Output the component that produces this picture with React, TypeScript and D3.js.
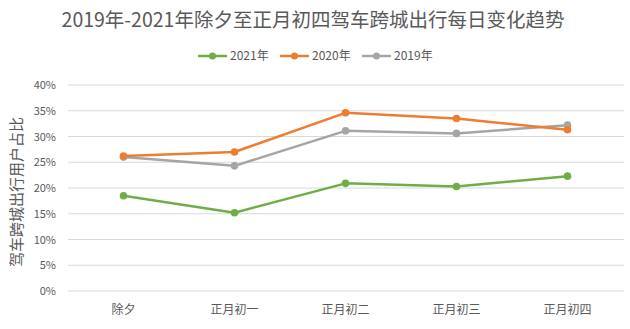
import React from "react";
import * as d3 from "d3";

const categories = ["除夕", "正月初一", "正月初二", "正月初三", "正月初四"];
const series2021 = [18.5, 15.2, 20.9, 20.3, 22.3];
const series2020 = [26.2, 27.0, 34.6, 33.5, 31.3];
const series2019 = [26.0, 24.3, 31.1, 30.6, 32.2];
const seriesNames = ["2021年", "2020年", "2019年"];
const seriesColors = ["#70AD47", "#ED7D31", "#A5A5A5"];
const yTicks = [0, 5, 10, 15, 20, 25, 30, 35, 40];

const W = 630;
const H = 329;
const FONT = "'Noto Sans CJK SC', 'Noto Sans', sans-serif";

export default function App() {
  const x = d3.scaleBand<string>().domain(categories).range([68, 623]);
  const y = d3.scaleLinear().domain([0, 40]).range([291, 85]);
  const cx = (c: string) => (x(c) ?? 0) + x.bandwidth() / 2;
  const line = d3
    .line<number>()
    .x((_, i) => cx(categories[i]))
    .y((d) => y(d));
  const all = [series2021, series2020, series2019];
  const drawOrder = [2, 1, 0];
  const legendX = [198, 280, 362];

  return (
    <svg
      width={W}
      height={H}
      style={{ position: "absolute", left: 0, top: 0, background: "#fff" }}
      fontFamily={FONT}
    >
      <rect width={W} height={H} fill="#fff" />
      <text x={313} y={27} textAnchor="middle" fontSize={19.5} fill="#595959">
        2019年-2021年除夕至正月初四驾车跨城出行每日变化趋势
      </text>
      {seriesNames.map((n, i) => (
        <g key={n} transform={`translate(${legendX[i]},56)`}>
          <line x1={0} x2={29} y1={0} y2={0} stroke={seriesColors[i]} strokeWidth={2.5} />
          <circle cx={14.5} cy={0} r={3.5} fill={seriesColors[i]} />
          <text x={32} y={4} fontSize={12} fill="#595959">
            {n}
          </text>
        </g>
      ))}
      {yTicks.map((t) => (
        <g key={t}>
          <line x1={68} x2={624} y1={y(t)} y2={y(t)} stroke="#D9D9D9" strokeWidth={1} />
          <text x={56} y={y(t) + 4} textAnchor="end" fontSize={11} fill="#595959">
            {t}%
          </text>
        </g>
      ))}
      <text
        transform={`translate(22,192) rotate(-90)`}
        textAnchor="middle"
        fontSize={15}
        fill="#595959"
      >
        驾车跨城出行用户占比
      </text>
      {categories.map((c) => (
        <text key={c} x={cx(c)} y={314} textAnchor="middle" fontSize={12} fill="#595959">
          {c}
        </text>
      ))}
      {drawOrder.map((i) => (
        <g key={i}>
          <path d={line(all[i]) ?? ""} fill="none" stroke={seriesColors[i]} strokeWidth={2.5} strokeLinejoin="round" />
          {all[i].map((v, j) => (
            <circle key={j} cx={cx(categories[j])} cy={y(v)} r={3.8} fill={seriesColors[i]} />
          ))}
        </g>
      ))}
    </svg>
  );
}
